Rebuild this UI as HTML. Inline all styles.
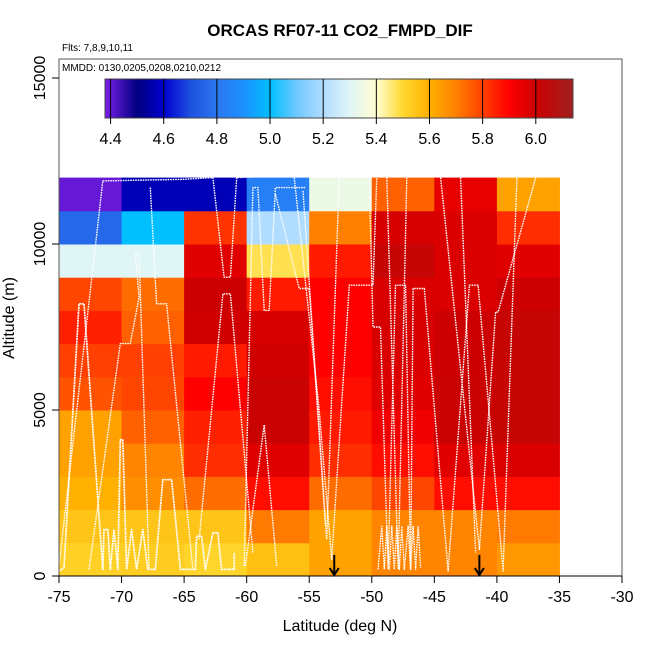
<!DOCTYPE html>
<html><head><meta charset="utf-8"><style>
html,body{margin:0;padding:0;background:#fff;}
svg{display:block;font-family:"Liberation Sans",sans-serif;}
</style></head><body>
<svg id="chart" width="650" height="650" viewBox="0 0 650 650" xmlns="http://www.w3.org/2000/svg">
<defs>
<linearGradient id="cbgrad" x1="0" x2="1" y1="0" y2="0"></linearGradient>
<clipPath id="plotclip"><rect x="59" y="59" width="563" height="517"/></clipPath>
</defs>
<g id="cells"></g>
<g id="tracks" clip-path="url(#plotclip)"></g>
<g id="arrows"></g>
<rect x="59" y="59" width="563" height="517" fill="none" stroke="#555" stroke-width="1"/>
<g id="xaxis"></g>
<g id="yaxis"></g>
<g id="colorbar"></g>
<text x="340" y="36" text-anchor="middle" font-size="17" font-weight="bold">ORCAS RF07-11 CO2_FMPD_DIF</text>
<text x="62" y="51" font-size="10">Flts: 7,8,9,10,11</text>
<text x="62" y="71" font-size="10">MMDD: 0130,0205,0208,0210,0212</text>
<text x="340" y="631" text-anchor="middle" font-size="16">Latitude (deg N)</text>
<text transform="translate(14,318) rotate(-90)" text-anchor="middle" font-size="16">Altitude (m)</text>
</svg>
<script>
const lats = [-75,-70,-65,-60,-55,-50,-45,-40];
const alts = [0,1000,2000,3000,4000,5000,6000,7000,8000,9000,10000,11000];
// values[row] row 0 = 0-1000 m
const values = [
 [5.52,5.53,5.51,5.56,5.63,5.69,5.69,5.65],
 [5.55,5.55,5.55,5.71,5.63,5.69,5.69,5.71],
 [5.60,5.67,5.73,5.88,5.73,5.79,5.88,5.88],
 [5.63,5.69,5.83,5.96,5.83,5.88,5.96,5.97],
 [5.63,5.75,5.85,6.01,5.86,5.93,6.01,6.02],
 [5.77,5.79,5.90,6.01,5.88,5.96,6.01,6.02],
 [5.80,5.80,5.86,5.99,5.90,5.97,6.00,6.02],
 [5.85,5.75,5.99,5.98,5.90,5.98,6.00,6.02],
 [5.79,5.73,6.00,5.86,5.90,5.97,5.97,6.00],
 [5.30,5.30,5.96,5.48,5.86,6.02,5.97,5.96],
 [4.76,5.00,5.82,5.20,5.70,5.98,5.97,5.83],
 [4.40,4.57,4.57,4.83,5.34,5.75,5.95,5.63]
];
const xTicks = [-75,-70,-65,-60,-55,-50,-45,-40,-35,-30];
const yTicks = [0,5000,10000,15000];
const cbTicks = [4.4,4.6,4.8,5.0,5.2,5.4,5.6,5.8,6.0];
const arrowLats = [-53,-41.4];
const tracks = [
 [[-75,150],[-74.6,250],[-73.4,8200],[-73.0,8200],[-71.5,200],[-71.4,1400],[-71.1,1400],[-70.9,200],[-70.6,1400],[-70.3,200],[-70.1,4100],[-69.9,4100],[-69.6,200],[-69.2,1400],[-68.8,200],[-68.3,1400],[-67.9,200],[-67.3,200],[-66.7,2900],[-66.0,2900],[-65.3,200],[-64.1,200],[-64.0,1200],[-63.6,1200],[-63.3,200],[-62.7,1300],[-62.3,1300],[-62.0,200],[-61.0,200],[-61.0,700]],
 [[-75,300],[-71.5,11900],[-65,11950],[-62.7,12000],[-61.8,9000],[-61.3,9000],[-60.8,12000],[-55,12100]],
 [[-72.6,200],[-70.1,7000],[-69.3,7000],[-68.6,8400],[-68.9,9700],[-68.6,9700],[-67.8,200]],
 [[-67.7,11700],[-67.2,8200],[-66.4,8200],[-64.3,200]],
 [[-63.8,1100],[-61.9,8500],[-61.3,8500],[-59.5,700]],
 [[-60.2,300],[-59.5,11700],[-59.1,11700],[-58.6,8000],[-58.2,8000],[-57.7,11700],[-55.3,11700]],
 [[-60.1,300],[-58.6,4550],[-57.6,300]],
 [[-57.7,11500],[-55.8,8660],[-55,8660],[-53.7,1500]],
 [[-56.2,12000],[-54.2,5000],[-53.2,500],[-51.8,8760],[-49.9,8760],[-49.6,12000]],
 [[-55.5,11600],[-53.6,1100],[-52.6,12000]],
 [[-50.2,12000],[-49.9,7500],[-49.3,7500],[-48.7,200],[-48.1,8760],[-47.3,8760],[-46.9,200],[-46.7,8660],[-45.8,8660],[-43.9,150],[-42.2,8760],[-41.5,8760],[-39.5,150],[-38.4,12000]],
 [[-48.8,12000],[-47.9,200],[-47.2,12000]],
 [[-44.5,12000],[-41.4,800],[-40.1,7950],[-39.9,7950],[-36.9,12000]],
 [[-42.9,12000],[-41.7,700]],
 [[-49.5,200],[-49.2,1500],[-49.0,200],[-48.8,1500],[-48.6,200],[-48.4,1500],[-48.2,200],[-48.0,1500],[-47.8,200],[-47.6,1500],[-47.4,200],[-47.1,1500],[-46.9,200],[-46.7,1500],[-46.5,200],[-46.3,1500],[-46.1,250]]
];

const NS='http://www.w3.org/2000/svg';
const X0=59,X1=622,LAT0=-75,LAT1=-30,Y0=576,ALT_PER_PX=30.12;
function xs(lat){return X0+(lat-LAT0)*(X1-X0)/(LAT1-LAT0);}
function ys(alt){return Y0-alt/ALT_PER_PX;}
const CB0=105,CB1=573,V0=4.379,V1=6.14;
function cbx(v){return CB0+(v-V0)*(CB1-CB0)/(V1-V0);}
const stops=[[4.379,[122,30,232]],[4.5,[0,0,128]],[4.6,[0,0,205]],[4.7,[30,80,224]],[4.8,[42,120,240]],[4.9,[30,144,255]],[5.0,[0,191,255]],[5.1,[110,200,255]],[5.2,[176,220,255]],[5.3,[224,245,245]],[5.4,[255,255,208]],[5.5,[255,216,48]],[5.6,[255,176,0]],[5.7,[255,128,0]],[5.8,[255,64,0]],[5.9,[255,0,0]],[6.0,[204,0,0]],[6.14,[160,32,32]]];
function col(v){
 if(v<=stops[0][0])return 'rgb('+stops[0][1]+')';
 for(let i=1;i<stops.length;i++){
  if(v<=stops[i][0]){const a=stops[i-1],b=stops[i];const t=(v-a[0])/(b[0]-a[0]);
   const c=a[1].map((q,k)=>Math.round(q+(b[1][k]-q)*t));return 'rgb('+c.join(',')+')';}
 }
 return 'rgb('+stops[stops.length-1][1]+')';
}
function mk(tag,attrs,parent){const e=document.createElementNS(NS,tag);for(const k in attrs)e.setAttribute(k,attrs[k]);parent.appendChild(e);return e;}

const gc=document.getElementById('cells');
values.forEach((row,ri)=>{row.forEach((v,ci)=>{
 const x=xs(lats[ci]),x2=xs(lats[ci]+5),y=ys(alts[ri]+1000),y2=ys(alts[ri]);
 const r=mk('rect',{x:x,y:y,width:x2-x+0.5,height:y2-y+0.5,fill:col(v)},gc);
 
 
});});

const gt=document.getElementById('tracks');
tracks.forEach((tr,i)=>{
 const p=mk('polyline',{points:tr.map(q=>xs(q[0]).toFixed(1)+','+ys(q[1]).toFixed(1)).join(' '),fill:'none',stroke:'#fff','stroke-width':i===0?1.7:1.4,'stroke-dasharray':i===0?'2 0.6':'1.6 0.9','stroke-linejoin':'round'},gt);
 
 
});

const ga=document.getElementById('arrows');
arrowLats.forEach(l=>{
 const x=xs(l);
 const g=mk('g',{},ga);
 
 
 mk('line',{x1:x,y1:555,x2:x,y2:575,stroke:'#000','stroke-width':2},g);
 mk('polyline',{points:(x-4.5)+',568 '+x+',575 '+(x+4.5)+',568',fill:'none',stroke:'#000','stroke-width':2},g);
});

const gx=document.getElementById('xaxis');
mk('line',{x1:X0,y1:576,x2:X1,y2:576,stroke:'#000','stroke-width':1},gx);
xTicks.forEach(t=>{
 const x=xs(t);
 mk('line',{x1:x,y1:576,x2:x,y2:583,stroke:'#000','stroke-width':1},gx);
 const tx=mk('text',{x:x,y:602,'text-anchor':'middle','font-size':16},gx);
 tx.textContent=String(t);
 
 
});
const gy=document.getElementById('yaxis');
yTicks.forEach(t=>{
 const y=ys(t);
 mk('line',{x1:52,y1:y,x2:59,y2:y,stroke:'#000','stroke-width':1},gy);
 const tx=mk('text',{transform:'translate(45,'+y+') rotate(-90)','text-anchor':'middle','font-size':16},gy);
 tx.textContent=String(t);
 
 
});

const grad=document.getElementById('cbgrad');
stops.forEach(s=>{mk('stop',{offset:((s[0]-V0)/(V1-V0)*100).toFixed(2)+'%','stop-color':'rgb('+s[1]+')'},grad);});
const gcb=document.getElementById('colorbar');
mk('rect',{x:CB0,y:79,width:CB1-CB0,height:39,fill:'url(#cbgrad)',stroke:'#444','stroke-width':1},gcb);
cbTicks.forEach(t=>{
 const x=cbx(t);
 mk('line',{x1:x,y1:79,x2:x,y2:124,stroke:'#000','stroke-width':1},gcb);
 const tx=mk('text',{x:x,y:144,'text-anchor':'middle','font-size':16},gcb);
 tx.textContent=t.toFixed(1);
 
 
});
</script>
</body></html>
